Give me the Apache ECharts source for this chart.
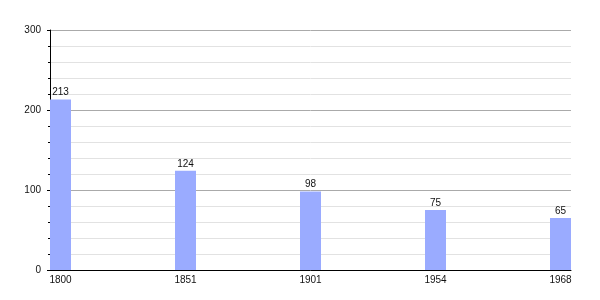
<!DOCTYPE html>
<html><head><meta charset="utf-8">
<script src="https://cdn.jsdelivr.net/npm/echarts@6/dist/echarts.min.js"></script>
<style>html,body{margin:0;padding:0;background:#fff}#c{width:600px;height:300px}</style>
</head><body><div id="c"></div>
<script>
var years = ['1800', '1851', '1901', '1954', '1968'];
var population = [213, 124, 98, 75, 65];
var yTicks = [0, 100, 200, 300];

var chart = echarts.init(document.getElementById('c'), null, {renderer: 'canvas'});
var font = 'Liberation Sans, Arial, sans-serif';
var idx = years.map(function (_, i) { return i; });
chart.setOption({
  animation: false,
  backgroundColor: '#ffffff',
  grid: {left: 50, top: 30, width: 521, height: 240},
  xAxis: {
    type: 'value',
    min: -10.5 / 125,
    max: 4 + 10.5 / 125,
    axisLine: {show: true, onZero: false, lineStyle: {color: '#000', width: 1}},
    axisTick: {show: false},
    splitLine: {show: false},
    axisLabel: {
      customValues: idx,
      formatter: function (v) { return years[Math.round(v)]; },
      color: '#111', fontFamily: font, fontSize: 10, margin: 5
    }
  },
  yAxis: {
    type: 'value',
    min: yTicks[0], max: yTicks[yTicks.length - 1], interval: 100,
    axisLine: {show: true, onZero: false, lineStyle: {color: '#000', width: 1}},
    axisTick: {show: true, length: 3, lineStyle: {color: '#000'}},
    minorTick: {show: true, splitNumber: 5, length: 2, lineStyle: {color: '#000'}},
    splitLine: {show: true, lineStyle: {color: '#aaaaaa', width: 1}},
    minorSplitLine: {show: true, lineStyle: {color: '#e2e2e2', width: 1}},
    axisLabel: {color: '#111', fontFamily: font, fontSize: 10, margin: 9}
  },
  series: [{
    type: 'bar',
    barWidth: 21,
    data: population.map(function (v, i) { return [i, v]; }),
    itemStyle: {color: '#9aabff'},
    label: {
      show: true, position: 'top', distance: 2,
      formatter: function (p) { return p.value[1]; },
      color: '#111', fontFamily: font, fontSize: 10
    }
  }]
});
</script></body></html>
